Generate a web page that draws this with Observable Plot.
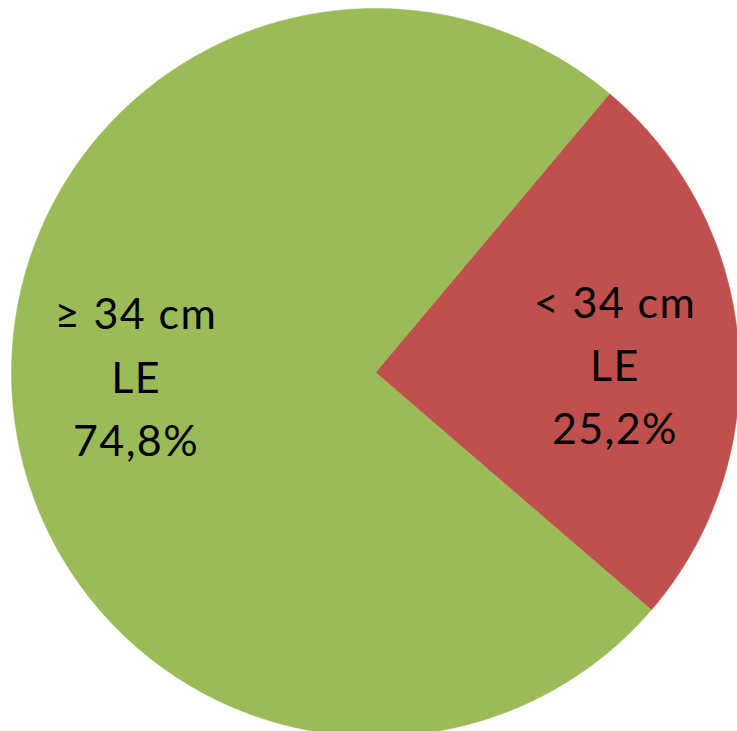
<!DOCTYPE html>
<html>
<head>
<meta charset="utf-8">
<script src="https://cdn.jsdelivr.net/npm/d3@7"></script>
<script src="https://cdn.jsdelivr.net/npm/@observablehq/plot@0.6"></script>
<style>
  html, body { margin: 0; padding: 0; background: #ffffff; }
  #chart svg { display: block; }
  #chart text { letter-spacing: 1.4px; }
</style>
</head>
<body>
<div id="chart"></div>
<script>
// ---- data ----
const categories = ["< 34 cm", "≥ 34 cm"];
const subLabels = ["LE", "LE"];
const percents = [25.2, 74.8];
const percentLabels = ["25,2%", "74,8%"];
const colors = ["#C0504D", "#9BBB59"];

// ---- layout settings ----
const W = 737, H = 731;
const cx = 375, cy = 372, R = 364;      // pie centre and radius in pixels
const firstSliceAngle = 40;             // degrees clockwise from 12 o'clock
const labelRadius = 0.66;
const labelVerticalPull = 0.3;

const rad = d => d * Math.PI / 180;
const slices = d3.pie().sort(null)
  .startAngle(rad(firstSliceAngle))
  .endAngle(rad(firstSliceAngle + 360))
  .value(d => d.value)(categories.map((c, i) => ({key: c, value: percents[i], color: colors[i], i})));

// polygon outline of each slice in unit coordinates
const outline = [];
for (const s of slices) {
  const k = s.data.key;
  outline.push({key: k, color: s.data.color, u: 0, v: 0});
  const n = Math.max(2, Math.ceil((s.endAngle - s.startAngle) / rad(0.25)));
  for (let j = 0; j <= n; j++) {
    const a = s.startAngle + (s.endAngle - s.startAngle) * j / n;
    outline.push({key: k, color: s.data.color, u: Math.sin(a), v: Math.cos(a)});
  }
  outline.push({key: k, color: s.data.color, u: 0, v: 0});
}

const labelData = slices.map(s => {
  const a = (s.startAngle + s.endAngle) / 2;
  const i = s.data.i;
  return {
    u: labelRadius * Math.sin(a),
    v: labelRadius * Math.cos(a) * labelVerticalPull,
    text: categories[i] + "\n" + subLabels[i] + "\n" + percentLabels[i]
  };
});

const chart = Plot.plot({
  width: W,
  height: H,
  margin: 0,
  x: {domain: [(0 - cx) / R, (W - cx) / R], range: [0, W], axis: null},
  y: {domain: [(cy - H) / R, cy / R], range: [H, 0], axis: null},
  color: {type: "identity"},
  style: {background: "#ffffff", fontFamily: "Lato, 'Open Sans', sans-serif"},
  marks: [
    Plot.line(outline, {x: "u", y: "v", z: "key", fill: "color", stroke: "color", strokeWidth: 0.5, curve: "linear"}),
    Plot.text(labelData, {
      x: "u", y: "v", text: "text",
      fontSize: 43, lineHeight: 1.47, fill: "#000000",
      fontFamily: "Lato, 'Open Sans', sans-serif",
      textAnchor: "middle", lineAnchor: "middle", dy: -6
    })
  ]
});
document.getElementById("chart").appendChild(chart);
</script>
</body>
</html>
